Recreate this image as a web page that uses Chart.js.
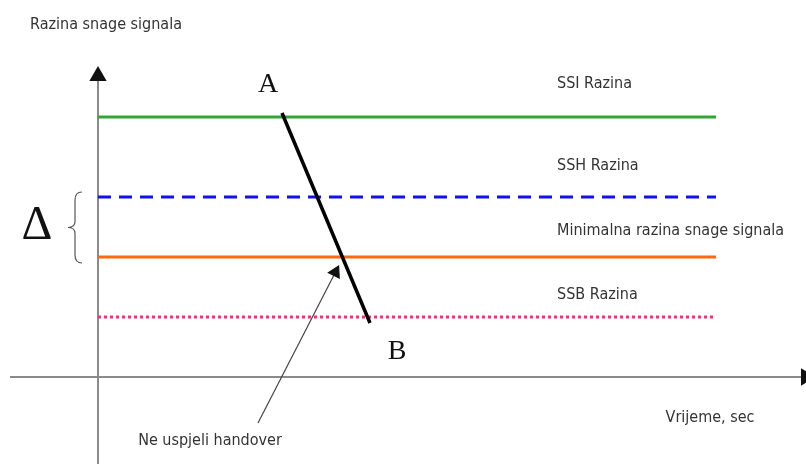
<!DOCTYPE html>
<html>
<head>
<meta charset="utf-8">
<script src="https://cdn.jsdelivr.net/npm/chart.js@4/dist/chart.umd.min.js"></script>
<style>
  html, body { margin: 0; padding: 0; background: #fff; }
  #wrap { width: 806px; height: 464px; position: relative; }
</style>
</head>
<body>
<div id="wrap"><canvas id="diagram"></canvas></div>
<script>
// signal levels (horizontal thresholds)
const levelNames = ['SSI Razina', 'SSH Razina', 'Minimalna razina snage signala', 'SSB Razina']
const levelValues = [13, 9, 6, 3]
const levelColors = ['#33a532', '#1010f0', '#ff6a10', '#ff2a7a']
const levelDash = [[], [13, 8], [], [3, 3]]
const levelFrom = 0
const levelTo = 30.9

// received signal falling from A to B
const signalTime = [9.2, 13.6]
const signalLevel = [13.2, 2.7]

// pointer to the failed handover
const pointerTime = [8.0, 11.87]
const pointerLevel = [-2.3, 5.24]

// axes ranges (sec / level units)
const timeAxis = [-4.4, 35.4]
const levelAxis = [-4.4, 15.05]

const textFont = '"Liberation Sans Narrow", "DejaVu Sans Condensed", sans-serif'
const textColor = '#333'

const levelDatasets = levelValues.map((v, i) => ({
    label: levelNames[i],
    data: [{x: levelFrom, y: v}, {x: levelTo, y: v}],
    showLine: true,
    borderColor: levelColors[i],
    borderWidth: 3,
    borderDash: levelDash[i],
    pointRadius: 0,
    order: 2
}))

const labelsPlugin = {
    id: 'diagramText',
    afterDatasetsDraw(chart) {
        const ctx = chart.ctx
        const xs = chart.scales.x
        const ys = chart.scales.y
        const px = v => xs.getPixelForValue(v)
        const py = v => ys.getPixelForValue(v)

        ctx.save()
        ctx.fillStyle = textColor
        ctx.textBaseline = 'middle'

        ctx.font = '16px ' + textFont
        ctx.textAlign = 'left'
        ctx.fillText('Razina snage signala', px(-3.4), py(17.6))

        const offsets = [1.65, 1.55, 1.3, 1.1]
        levelNames.forEach((name, i) => {
            ctx.fillText(name, px(22.95), py(levelValues[i] + offsets[i]))
        })

        ctx.textAlign = 'center'
        ctx.fillText('Vrijeme, sec', px(30.6), py(-2.05))
        ctx.fillText('Ne uspjeli handover', px(5.6), py(-3.2))

        ctx.fillStyle = '#111'
        ctx.font = '28px "Liberation Serif", serif'
        ctx.fillText('A', px(8.5), py(14.6))
        ctx.fillText('B', px(14.95), py(1.25))

        ctx.font = '48px "Liberation Serif", serif'
        ctx.fillText('\u0394', px(-3.05), py(7.55))

        // brace spanning SSH .. minimum level
        const bx = px(-1.15)
        const top = py(levelValues[1]) - 5
        const bot = py(levelValues[2]) + 6
        const mid = (top + bot) / 2
        ctx.strokeStyle = '#555'
        ctx.lineWidth = 1.2
        ctx.beginPath()
        ctx.moveTo(bx + 7, top)
        ctx.quadraticCurveTo(bx, top, bx, top + 8)
        ctx.lineTo(bx, mid - 6)
        ctx.quadraticCurveTo(bx, mid, bx - 7, mid)
        ctx.quadraticCurveTo(bx, mid, bx, mid + 6)
        ctx.lineTo(bx, bot - 8)
        ctx.quadraticCurveTo(bx, bot, bx + 7, bot)
        ctx.stroke()
        ctx.restore()
    }
}

new Chart(document.getElementById('diagram'), {
    type: 'scatter',
    data: {
        datasets: [
            {
                label: 'Signal',
                data: signalTime.map((t, i) => ({x: t, y: signalLevel[i]})),
                showLine: true,
                borderColor: '#000',
                borderWidth: 3.5,
                pointRadius: 0,
                order: 0
            },
            {
                label: 'Pointer',
                data: pointerTime.map((t, i) => ({x: t, y: pointerLevel[i]})),
                showLine: true,
                borderColor: '#444',
                borderWidth: 1.2,
                pointRadius: [0, 7],
                pointStyle: 'triangle',
                rotation: [0, 27],
                pointBackgroundColor: '#111',
                pointBorderColor: '#111',
                order: 1
            },
            ...levelDatasets,
            {
                label: 'Time axis',
                data: [{x: timeAxis[0], y: 0}, {x: timeAxis[1], y: 0}],
                showLine: true,
                borderColor: '#8a8a8a',
                borderWidth: 2,
                pointRadius: [0, 8],
                pointStyle: 'triangle',
                rotation: [0, 90],
                pointBackgroundColor: '#111',
                pointBorderColor: '#111',
                order: 3
            },
            {
                label: 'Level axis',
                data: [{x: 0, y: levelAxis[0]}, {x: 0, y: levelAxis[1]}],
                showLine: true,
                borderColor: '#8a8a8a',
                borderWidth: 2,
                pointRadius: [0, 8],
                pointStyle: 'triangle',
                pointBackgroundColor: '#111',
                pointBorderColor: '#111',
                order: 3
            }
        ]
    },
    options: {
        responsive: true,
        maintainAspectRatio: false,
        animation: false,
        layout: { padding: 0, autoPadding: false },
        clip: false,
        scales: {
            x: { type: 'linear', display: false, min: -4.9, max: 35.4 },
            y: { type: 'linear', display: false, min: -4.35, max: 18.85 }
        },
        plugins: {
            legend: { display: false },
            tooltip: { enabled: false }
        }
    },
    plugins: [labelsPlugin]
})
</script>
</body>
</html>
